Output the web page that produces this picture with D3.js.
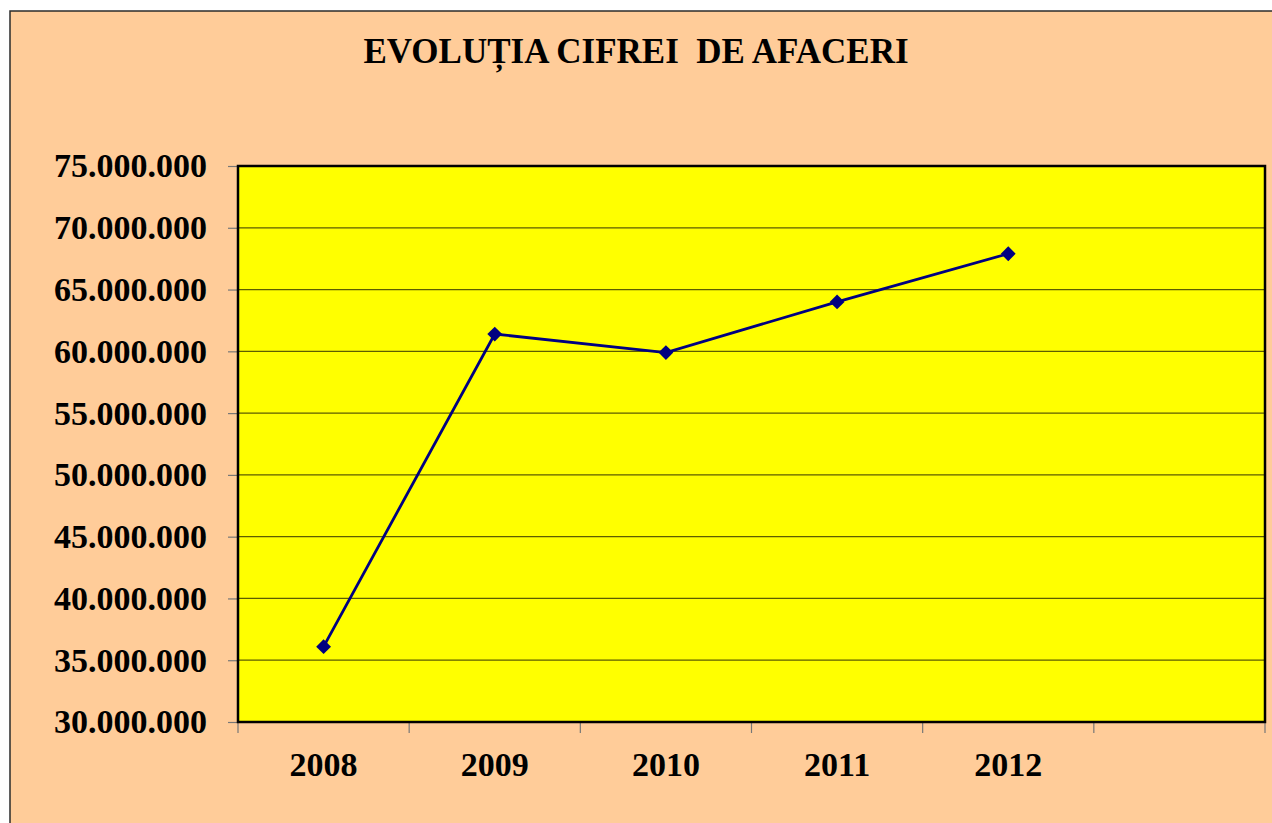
<!DOCTYPE html>
<html lang="ro">
<head>
<meta charset="utf-8">
<title>Evolutia cifrei de afaceri</title>
<script src="https://cdn.jsdelivr.net/npm/d3@7"></script>
<style>
  body { margin: 0; background: #fff; }
  svg text { font-family: "Liberation Serif", "Times New Roman", serif; font-weight: bold; fill: #000; }
</style>
</head>
<body>
<script>
// data
var years = ["2008", "2009", "2010", "2011", "2012"];
var cifra = [36100000, 61400000, 59900000, 64000000, 67900000];
var yTicks = [30000000, 35000000, 40000000, 45000000, 50000000, 55000000, 60000000, 65000000, 70000000, 75000000];
var title = "EVOLUȚIA CIFREI  DE AFACERI";

var w = 1272, h = 823;
var plot = { left: 238, right: 1265, top: 166, bottom: 722 };

var svg = d3.select("body").append("svg")
  .attr("width", w).attr("height", h);

// outer frame
svg.append("rect")
  .attr("x", 10).attr("y", 11)
  .attr("width", w + 20).attr("height", h + 20)
  .attr("fill", "#ffcc99")
  .attr("stroke", "#2b2b2b").attr("stroke-width", 1.5);

svg.append("text")
  .attr("x", 636).attr("y", 63)
  .attr("text-anchor", "middle")
  .style("font-size", "35px")
  .style("white-space", "pre")
  .attr("xml:space", "preserve")
  .text(title);

// one empty slot after 2012, like the original
var x = d3.scaleBand()
  .domain(years.concat([""]))
  .range([plot.left, plot.right]);

var y = d3.scaleLinear()
  .domain([30000000, 75000000])
  .range([plot.bottom, plot.top]);

var fmt = function (d) { return d3.format(",")(d).replace(/,/g, "."); };

// plot background
svg.append("rect")
  .attr("x", plot.left).attr("y", plot.top)
  .attr("width", plot.right - plot.left).attr("height", plot.bottom - plot.top)
  .attr("fill", "#ffff00");

// gridlines
svg.append("g")
  .selectAll("line")
  .data(yTicks.slice(1, -1))
  .enter().append("line")
  .attr("x1", plot.left).attr("x2", plot.right)
  .attr("y1", function (d) { return y(d); })
  .attr("y2", function (d) { return y(d); })
  .attr("stroke", "#5c5c00").attr("stroke-width", 1.3);

// y axis
var yAxis = svg.append("g")
  .attr("transform", "translate(" + plot.left + ",0)")
  .call(d3.axisLeft(y).tickValues(yTicks).tickFormat(fmt).tickSize(10).tickPadding(21));
yAxis.select(".domain").remove();
yAxis.selectAll(".tick line").attr("stroke", "#777").attr("stroke-width", 1.2);
yAxis.selectAll(".tick text")
  .style("font-size", "34px")
  .style("font-family", "'Liberation Serif', 'Times New Roman', serif")
  .style("font-weight", "bold")
  .attr("fill", "#000");

// x axis: ticks on band edges, labels in band centres
var edges = x.domain().map(function (d) { return x(d); }).concat([plot.right]);
svg.append("g")
  .selectAll("line")
  .data(edges)
  .enter().append("line")
  .attr("x1", function (d) { return d; })
  .attr("x2", function (d) { return d; })
  .attr("y1", plot.bottom).attr("y2", plot.bottom + 11)
  .attr("stroke", "#777").attr("stroke-width", 1.2);

svg.append("g")
  .selectAll("text")
  .data(years)
  .enter().append("text")
  .attr("x", function (d) { return x(d) + x.bandwidth() / 2; })
  .attr("y", 776)
  .attr("text-anchor", "middle")
  .style("font-size", "34px")
  .text(function (d) { return d; });

// plot border
svg.append("rect")
  .attr("x", plot.left).attr("y", plot.top)
  .attr("width", plot.right - plot.left).attr("height", plot.bottom - plot.top)
  .attr("fill", "none")
  .attr("stroke", "#000").attr("stroke-width", 2.5);

// line + diamond markers
var line = d3.line()
  .x(function (d, i) { return x(years[i]) + x.bandwidth() / 2; })
  .y(function (d) { return y(d); });

svg.append("path")
  .datum(cifra)
  .attr("d", line)
  .attr("fill", "none")
  .attr("stroke", "#000080")
  .attr("stroke-width", 2.8);

svg.append("g")
  .selectAll("path")
  .data(cifra)
  .enter().append("path")
  .attr("d", d3.symbol().type(d3.symbolDiamond2).size(140))
  .attr("transform", function (d, i) {
    return "translate(" + (x(years[i]) + x.bandwidth() / 2) + "," + y(d) + ")";
  })
  .attr("fill", "#000080");
</script>
</body>
</html>
